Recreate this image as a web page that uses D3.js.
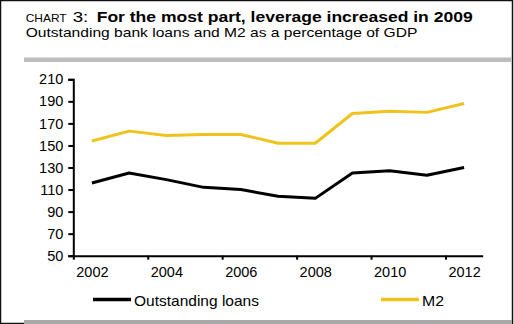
<!DOCTYPE html>
<html>
<head>
<meta charset="utf-8">
<script src="https://cdn.jsdelivr.net/npm/d3@7"></script>
<style>
  html, body { margin: 0; padding: 0; background: #fff; }
  svg { display: block; font-family: "Liberation Sans", Arial, sans-serif; }
</style>
</head>
<body>
<svg id="chart" width="514" height="324"></svg>
<script>
// Leverage indicators, % of GDP
const years = [2002, 2003, 2004, 2005, 2006, 2007, 2008, 2009, 2010, 2011, 2012];
const loans = [116, 125, 119, 112, 110, 104, 102, 125, 127, 123, 130];
const m2    = [154, 163, 159, 160, 160, 152, 152, 179, 181, 180, 188];
const yTicks = [50, 70, 90, 110, 130, 150, 170, 190, 210];
const xLabels = [2002, 2004, 2006, 2008, 2010, 2012];
const seriesNames = ["Outstanding loans", "M2"];

const svg = d3.select("#chart");
const W = 514, H = 324;

// frame
svg.append("rect").attr("x", 0.5).attr("y", 0.5).attr("width", W - 2).attr("height", H - 1)
  .attr("fill", "#fff").attr("stroke", "#111").attr("stroke-width", 1.5);

// header (the house font runs wide, so each run is fitted to its width)
function fitted(xPos, yPos, size, len, txt, weight) {
  return svg.append("text").attr("x", xPos).attr("y", yPos).attr("font-size", size)
    .attr("font-weight", weight || "normal").attr("fill", "#000")
    .attr("textLength", len).attr("lengthAdjust", "spacingAndGlyphs").text(txt);
}
fitted(25.7, 21.7, 10.7, 41, "CHART");
fitted(72.7, 21.7, 14, 15.6, "3:");
fitted(96.7, 21.7, 14.2, 376, "For the most part, leverage increased in 2009", "bold");
fitted(25.7, 36.7, 13.6, 391.6, "Outstanding bank loans and M2 as a percentage of GDP");

// grey rules
svg.append("rect").attr("x", 24).attr("y", 57.5).attr("width", 487).attr("height", 4.5).attr("fill", "#bdbdbd");
svg.append("rect").attr("x", 24).attr("y", 320).attr("width", 488).attr("height", 4).attr("fill", "#a9a9a9");

// scales
const x = d3.scaleLinear().domain([years[0] - 0.5, years[years.length - 1] + 0.5]).range([73.3, 482.7]);
const y = d3.scaleLinear().domain([50, 210]).range([255.7, 79.3]);

// y axis
const gy = svg.append("g").attr("transform", `translate(${x.range()[0]},0)`)
  .call(d3.axisLeft(y).tickValues(yTicks).tickSize(5).tickPadding(5).tickFormat(d3.format("d")));
gy.select(".domain").attr("stroke", "#000").attr("stroke-width", 2);
gy.selectAll(".tick line").attr("stroke", "#000").attr("stroke-width", 2);
gy.selectAll(".tick text").attr("font-size", 14.5).attr("fill", "#000")
  .attr("font-family", "'Liberation Sans', Arial, sans-serif");

// x axis: ticks on category boundaries every two years
const gx = svg.append("g").attr("transform", `translate(0,${y(50)})`)
  .call(d3.axisBottom(x).tickValues(xLabels.map(d => d - 0.5)).tickSize(4).tickFormat("").tickSizeOuter(0));
gx.select(".domain").attr("stroke", "#000").attr("stroke-width", 2);
gx.selectAll(".tick line").attr("stroke", "#000").attr("stroke-width", 2);

// x labels centred on the category
const gxl = svg.append("g").attr("transform", `translate(0,${y(50)})`)
  .call(d3.axisBottom(x).tickValues(xLabels).tickSize(0).tickPadding(11).tickFormat(d3.format("d")));
gxl.select(".domain").remove();
gxl.selectAll(".tick text").attr("font-size", 14.5).attr("fill", "#000")
  .attr("font-family", "'Liberation Sans', Arial, sans-serif");

// lines
const line = d3.line().x((d, i) => x(years[i])).y(d => y(d));
svg.append("path").datum(m2).attr("d", line).attr("fill", "none")
  .attr("stroke", "#f0c31c").attr("stroke-width", 3).attr("stroke-linejoin", "round");
svg.append("path").datum(loans).attr("d", line).attr("fill", "none")
  .attr("stroke", "#000").attr("stroke-width", 3).attr("stroke-linejoin", "round");

// legend
const legend = [
  { name: seriesNames[0], color: "#000", x0: 93, x1: 131, len: 125 },
  { name: seriesNames[1], color: "#f0c31c", x0: 381, x1: 419, len: 22 }
];
const lg = svg.append("g");
legend.forEach(l => {
  lg.append("line").attr("x1", l.x0).attr("x2", l.x1).attr("y1", 299.5).attr("y2", 299.5)
    .attr("stroke", l.color).attr("stroke-width", 3.5);
  lg.append("text").attr("x", l.x1 + 3).attr("y", 305.5).attr("font-size", 14.5).attr("fill", "#000")
    .attr("textLength", l.len).attr("lengthAdjust", "spacingAndGlyphs").text(l.name);
});
</script>
</body>
</html>
